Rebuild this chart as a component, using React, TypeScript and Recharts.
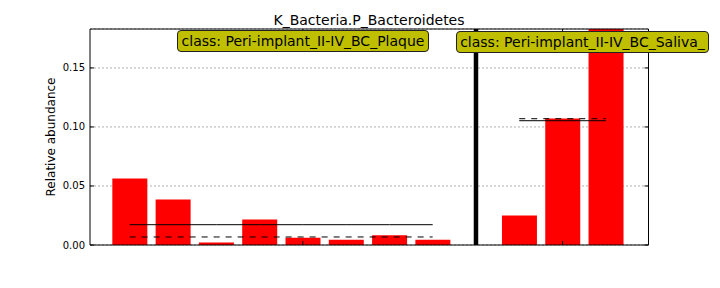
import { Bar, CartesianGrid, ComposedChart, Line, ReferenceLine, XAxis, YAxis } from "recharts";

const samples = ["P1", "P2", "P3", "P4", "P5", "P6", "P7", "P8", "sep", "S1", "S2", "S3"];
const sampleClass = ["Plaque", "Plaque", "Plaque", "Plaque", "Plaque", "Plaque", "Plaque", "Plaque", "", "Saliva", "Saliva", "Saliva"];
const abundance = [0.0563, 0.0385, 0.0022, 0.0215, 0.0062, 0.0045, 0.0082, 0.0045, null, 0.0249, 0.1072, 0.1838];

const classNames = ["Plaque", "Saliva"];
const classMean = [0.0172, 0.1053];
const classMedian = [0.0068, 0.107];
const classLabels = ["class: Peri-implant_II-IV_BC_Plaque", "class: Peri-implant_II-IV_BC_Saliva_"];

const yTicks = [0, 0.05, 0.1, 0.15];
const xTicks = ["P5", "S2"];

const font = "'DejaVu Sans', sans-serif";

// one mean / median column per class so the lines don't join across the gap
const rows = samples.map((name, i) => {
  const c = classNames.indexOf(sampleClass[i]);
  return {
    name,
    value: abundance[i],
    mean0: c === 0 ? classMean[0] : null,
    median0: c === 0 ? classMedian[0] : null,
    mean1: c === 1 ? classMean[1] : null,
    median1: c === 1 ? classMedian[1] : null,
  };
});

function LeftTick({ x, y, payload }: any) {
  return (
    <g>
      <line x1={x} x2={x + 4} y1={y} y2={y} stroke="#000" />
      <text x={x - 5} y={y} dy={3.5} textAnchor="end" fontSize={10} fontFamily={font} fill="#000">
        {Number(payload.value).toFixed(2)}
      </text>
    </g>
  );
}

function RightTick({ x, y }: any) {
  return <line x1={x} x2={x - 4} y1={y} y2={y} stroke="#000" />;
}

function BottomTick({ x, y }: any) {
  return <line x1={x} x2={x} y1={y} y2={y - 4} stroke="#000" />;
}

function TopTick({ x, y }: any) {
  return <line x1={x} x2={x} y1={y} y2={y + 4} stroke="#000" />;
}

const boxStyle = {
  position: "absolute" as const,
  height: 22,
  boxSizing: "border-box" as const,
  background: "#bfbf00",
  border: "1px solid #222",
  borderRadius: 4,
  fontFamily: font,
  fontSize: 14,
  lineHeight: "20px",
  textAlign: "center" as const,
  whiteSpace: "nowrap" as const,
  color: "#000",
};

export default function App() {
  return (
    <div style={{ position: "absolute", left: 0, top: 0, width: 720, height: 288, background: "#fff" }}>
      <ComposedChart
        width={720}
        height={288}
        data={rows}
        margin={{ top: 19, right: 0, bottom: 0, left: 0 }}
        barCategoryGap="10%"
      >
        <CartesianGrid vertical={false} stroke="#b0b0b0" strokeDasharray="2 2" />
        <XAxis
          dataKey="name"
          height={43}
          padding={{ left: 18, right: 21 }}
          ticks={xTicks}
          interval={0}
          tickSize={0}
          tickMargin={0}
          tickLine={false}
          tick={(p: any) => <BottomTick {...p} />}
          axisLine={{ stroke: "#000" }}
        />
        <XAxis
          xAxisId="top"
          orientation="top"
          dataKey="name"
          height={10}
          padding={{ left: 18, right: 21 }}
          ticks={xTicks}
          interval={0}
          tickSize={0}
          tickMargin={0}
          tickLine={false}
          tick={(p: any) => <TopTick {...p} />}
          axisLine={{ stroke: "#000" }}
        />
        <YAxis
          width={90}
          domain={[0, 0.183]}
          allowDataOverflow
          ticks={yTicks}
          tickSize={0}
          tickMargin={0}
          tickLine={false}
          tick={(p: any) => <LeftTick {...p} />}
          axisLine={{ stroke: "#000" }}
        />
        <YAxis
          yAxisId="right"
          orientation="right"
          width={71.5}
          domain={[0, 0.183]}
          allowDataOverflow
          ticks={yTicks}
          tickSize={0}
          tickMargin={0}
          tickLine={false}
          tick={(p: any) => <RightTick {...p} />}
          axisLine={{ stroke: "#000" }}
        />
        <Bar dataKey="value" fill="#ff0000" isAnimationActive={false} />
        <ReferenceLine x="sep" stroke="#000" strokeWidth={4.5} />
        <Line dataKey="mean0" stroke="#000" strokeWidth={1} dot={false} isAnimationActive={false} />
        <Line dataKey="median0" stroke="#000" strokeWidth={1} strokeDasharray="6 6" dot={false} isAnimationActive={false} />
        <Line dataKey="mean1" stroke="#000" strokeWidth={1} dot={false} isAnimationActive={false} />
        <Line dataKey="median1" stroke="#000" strokeWidth={1} strokeDasharray="6 6" dot={false} isAnimationActive={false} />
      </ComposedChart>

      <div
        style={{
          position: "absolute",
          left: 369,
          top: 11,
          transform: "translateX(-50%)",
          fontFamily: font,
          fontSize: 14,
          lineHeight: "18px",
          whiteSpace: "nowrap",
          color: "#000",
        }}
      >
        K_Bacteria.P_Bacteroidetes
      </div>
      <div
        style={{
          position: "absolute",
          left: 51,
          top: 137,
          transform: "translate(-50%, -50%) rotate(-90deg)",
          fontFamily: font,
          fontSize: 12,
          whiteSpace: "nowrap",
          color: "#000",
        }}
      >
        Relative abundance
      </div>
      <div style={{ ...boxStyle, left: 177, top: 30, width: 252 }}>{classLabels[0]}</div>
      <div style={{ ...boxStyle, left: 456, top: 30.5, width: 253 }}>{classLabels[1]}</div>
    </div>
  );
}
